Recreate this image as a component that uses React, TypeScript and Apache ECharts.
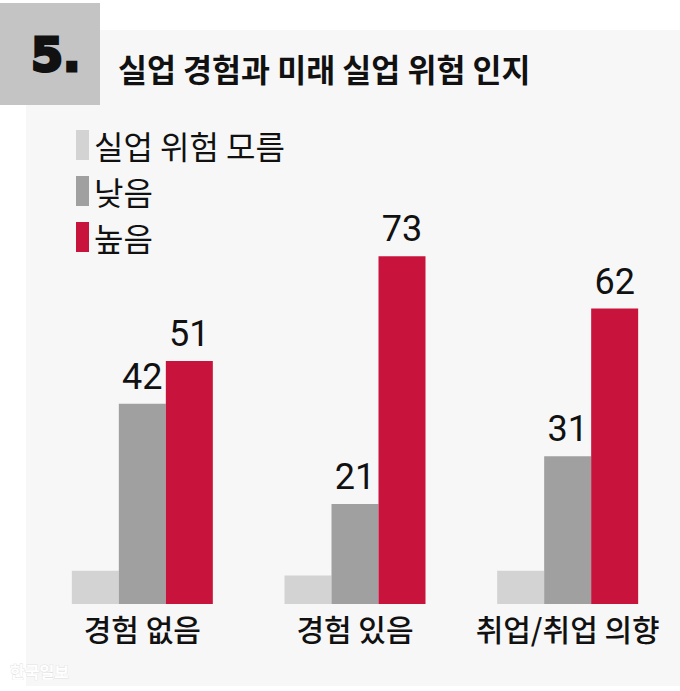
import React, { useEffect, useRef } from "react";
import * as echarts from "echarts";

const categories = ["경험 없음", "경험 있음", "취업/취업 의향"];
const seriesNames = ["실업 위험 모름", "낮음", "높음"];
const unknownValues = [7, 6, 7];
const lowValues = [42, 21, 31];
const highValues = [51, 73, 62];
const colors = ["#d3d3d3", "#a0a0a0", "#c8143c"];
const titleText = "실업 경험과 미래 실업 위험 인지";
const badgeText = "5.";
const sourceText = "한국일보";

export default function App() {
  const ref = useRef<HTMLDivElement>(null);
  useEffect(() => {
    document.body.style.margin = "0";
    if (!ref.current) return;
    const chart = echarts.init(ref.current, null, { renderer: "svg" });
    const kr = "'Noto Sans CJK KR', 'Noto Sans', sans-serif";
    const valueLabel = {
      show: true,
      position: "top",
      distance: 9,
      fontSize: 36,
      color: "#111",
      fontFamily: "Roboto, 'Noto Sans', sans-serif",
    };
    const dataSets = [unknownValues, lowValues, highValues];
    chart.setOption({
      animation: false,
      backgroundColor: "#ffffff",
      graphic: [
        {
          type: "rect",
          z: -10,
          shape: { x: 26, y: 30, width: 654, height: 656 },
          style: { fill: "#f7f7f7" },
        },
        {
          type: "rect",
          z: -5,
          shape: { x: 0, y: 3, width: 100, height: 102 },
          style: { fill: "#c4c4c4" },
        },
        {
          type: "text",
          x: 31,
          y: 55,
          style: {
            text: badgeText,
            font: "bold 46px 'DejaVu Sans', sans-serif",
            fill: "#111",
            stroke: "#111",
            lineWidth: 3,
            textVerticalAlign: "middle",
          },
        },
        {
          type: "text",
          x: 118,
          y: 68,
          style: {
            text: titleText,
            font: `bold 31.5px ${kr}`,
            fill: "#111",
            textVerticalAlign: "middle",
          },
        },
        {
          type: "text",
          x: 10,
          y: 671,
          style: {
            text: sourceText,
            font: `bold 16px ${kr}`,
            fill: "#ffffff",
            stroke: "#e2e2e2",
            lineWidth: 0.8,
            textVerticalAlign: "middle",
          },
        },
      ],
      legend: {
        orient: "vertical",
        left: 71,
        top: 124,
        icon: "rect",
        itemWidth: 13,
        itemHeight: 30,
        itemGap: 14,
        data: seriesNames,
        textStyle: {
          fontSize: 32,
          color: "#111",
          fontFamily: kr,
          lineHeight: 30,
        },
      },
      grid: { left: 36, right: 6, top: 127.5, bottom: 87, containLabel: false },
      xAxis: {
        type: "category",
        data: categories,
        axisLine: { show: false },
        axisTick: { show: false },
        axisLabel: {
          interval: 0,
          fontSize: 30,
          color: "#111",
          fontWeight: 500,
          fontFamily: kr,
          margin: 9,
        },
      },
      yAxis: {
        type: "value",
        min: 0,
        max: 100,
        show: false,
        splitLine: { show: false },
      },
      series: seriesNames.map((name, i) => ({
        name,
        type: "bar",
        data: dataSets[i],
        barWidth: 47,
        barGap: "0%",
        itemStyle: { color: colors[i] },
        label: i === 0 ? { show: false } : valueLabel,
      })),
    });
    return () => chart.dispose();
  }, []);
  return <div ref={ref} style={{ width: 680, height: 691 }} />;
}
